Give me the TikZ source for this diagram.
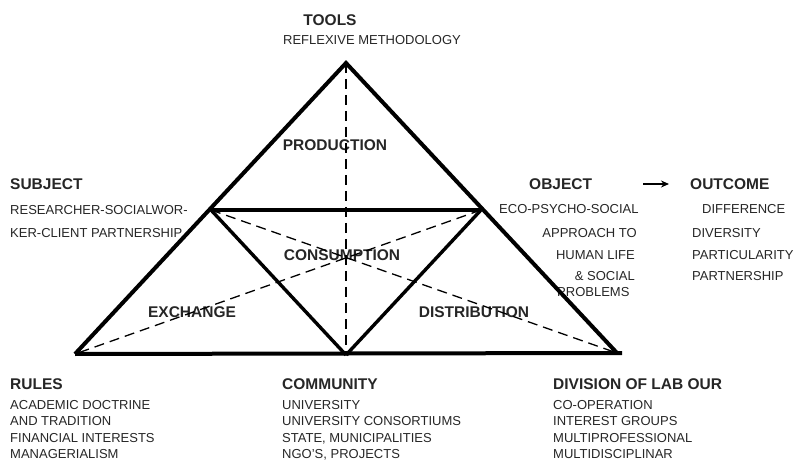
\documentclass[tikz,border=0pt]{standalone}
\usepackage{fontspec}
\setmainfont{Liberation Sans}
\usetikzlibrary{arrows.meta}
\begin{document}
\begin{tikzpicture}[x=1pt,y=-1pt,
  txt/.style={inner sep=0pt,anchor=base west,text=black!85,font=\fontsize{13}{15}\selectfont},
  txtr/.style={txt,anchor=base east},
  head/.style={txt,font=\fontsize{15.5}{17}\selectfont\bfseries},
  inlabel/.style={inner sep=0pt,anchor=base,text=black!85,font=\fontsize{15.5}{17}\selectfont\bfseries},
  outer/.style={line width=4pt,line join=miter,line cap=butt},
  inner/.style={line width=3.4pt},
  guide/.style={line width=1.3pt,dash pattern=on 10pt off 6pt}]
\useasboundingbox (0,0) rectangle (795,462);

% corner labels
\node[head,anchor=base] (tools) at (330,26) {TOOLS};
\node[txt,anchor=base] (toolsT) at (372,45) {REFLEXIVE METHODOLOGY};

\node[head] (subj) at (10,190) {SUBJECT};
\node[txt] (subj1) at (10,215) {RESEARCHER-SOCIALWOR-};
\node[txt] (subj2) at (10,238) {KER-CLIENT PARTNERSHIP};

\node[head] (obj) at (529,190) {OBJECT};
\node[head] (outc) at (690,190) {OUTCOME};
\coordinate (arrS) at (643,184);
\coordinate (arrE) at (669,184);
\draw[line width=1.4pt,-{Stealth[length=8pt,width=7pt]}] (arrS) -- (arrE);

\node[txt] (obj1) at (499,214) {ECO-PSYCHO-SOCIAL};
\node[txtr] (obj2) at (637,238) {APPROACH TO};
\node[txtr] (obj3) at (635,260) {HUMAN LIFE};
\node[txtr] (obj4) at (635,281) {\&\ SOCIAL};
\node[txt] (obj5) at (557,297) {PROBLEMS};

\node[txt] (out1) at (702,214) {DIFFERENCE};
\node[txt] (out2) at (692,238) {DIVERSITY};
\node[txt] (out3) at (692,260) {PARTICULARITY};
\node[txt] (out4) at (692,281) {PARTNERSHIP};

\node[head] (rules) at (10,389) {RULES};
\node[txt] (r1) at (10,409) {ACADEMIC DOCTRINE};
\node[txt] (r2) at (10,425.5) {AND TRADITION};
\node[txt] (r3) at (10,442) {FINANCIAL INTERESTS};
\node[txt] (r4) at (10,458) {MANAGERIALISM};

\node[head] (comm) at (282,389) {COMMUNITY};
\node[txt] (c1) at (282,409) {UNIVERSITY};
\node[txt] (c2) at (282,425.5) {UNIVERSITY CONSORTIUMS};
\node[txt] (c3) at (282,442) {STATE, MUNICIPALITIES};
\node[txt] (c4) at (282,458) {NGO'S, PROJECTS};

\node[head] (div) at (553,389) {DIVISION OF LAB OUR};
\node[txt] (d1) at (553,409) {CO-OPERATION};
\node[txt] (d2) at (553,425.5) {INTEREST GROUPS};
\node[txt] (d3) at (553,442) {MULTIPROFESSIONAL};
\node[txt] (d4) at (553,458) {MULTIDISCIPLINAR};

% labels of the four sub-triangles
\node[inlabel] (prod) at (335,151) {PRODUCTION};
\node[inlabel] (cons) at (342,261) {CONSUMPTION};
\node[inlabel] (exch) at (192,317) {EXCHANGE};
\node[inlabel] (dist) at (474,317) {DISTRIBUTION};

% triangle vertices
\coordinate (A) at (346,63);
\coordinate (BL) at (75,354);
\coordinate (BR) at (617,353);
\coordinate (BM) at (346,355);
\coordinate (ML) at (211,210);
\coordinate (MR) at (481,210);
\coordinate (BRx) at (622,353);

% dashed medians
\draw[guide] (A) -- (BM);
\draw[guide] (ML) -- (BR);
\draw[guide] (MR) -- (BL);

% inner triangle
\draw[inner] (ML) -- (MR);
\draw[inner] (ML) -- (BM);
\draw[inner] (MR) -- (BM);

% outer triangle
\draw[outer] (BL) -- (A) -- (BR);
\draw[outer] (BL) -- (BRx);
\end{tikzpicture}
\end{document}
